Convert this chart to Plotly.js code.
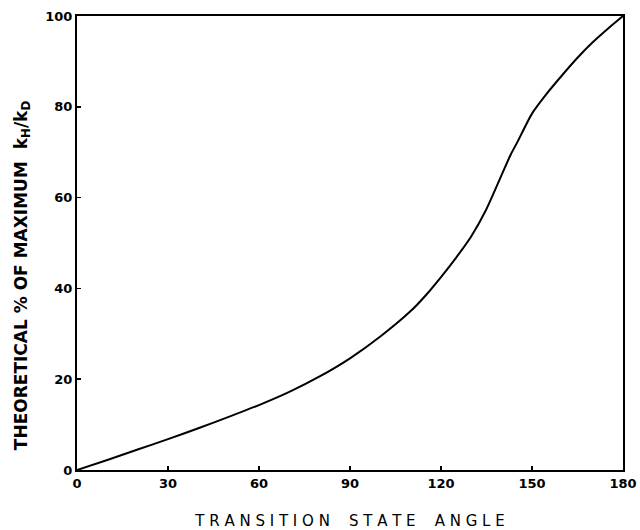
<!DOCTYPE html>
<html>
<head>
<meta charset="utf-8">
<script src="https://cdn.plot.ly/plotly-3.0.1.min.js"></script>
<style>html,body{margin:0;padding:0;background:#fff;}</style>
</head>
<body>
<div id="chart" style="width:640px;height:530px;"></div>
<script>
const angle = [0,10,20,30,40,50,60,70,80,90,100,110,115,120,125,130,135,140,143,145,150,155,160,165,170,175,180];
const pctMax = [0,2.2,4.5,6.8,9.2,11.7,14.3,17.2,20.6,24.6,29.4,35,38.5,42.5,46.8,51.5,57.5,65,69.5,72,78.5,83,87,90.8,94.2,97.2,100];
const xTicks = [0,30,60,90,120,150,180];
const yTicks = [0,20,40,60,80,100];
const xTitle = 'T R A N S I T I O N &nbsp;&nbsp; S T A T E &nbsp;&nbsp; A N G L E';
const yTitle = 'THEORETICAL % OF MAXIMUM &nbsp;k<sub>H</sub>/k<sub>D</sub>';

const trace = {
  x: angle, y: pctMax, type: 'scatter', mode: 'lines',
  line: {color: '#000', width: 2, shape: 'spline', smoothing: 0.6},
  hoverinfo: 'skip'
};

const tickFont = {family: 'DejaVu Sans', size: 13, color: '#000', weight: 'bold'};
const layout = {
  width: 640, height: 530,
  margin: {l: 77, r: 17, t: 16, b: 60},
  paper_bgcolor: '#fff', plot_bgcolor: '#fff',
  showlegend: false,
  xaxis: {
    range: [0, 180], tickvals: xTicks, ticktext: xTicks.map(String),
    showgrid: false, zeroline: false, showline: true, mirror: true,
    linecolor: '#000', linewidth: 2, ticks: 'inside', ticklen: 4, tickwidth: 1.5, tickcolor: '#000',
    tickfont: tickFont,
    title: {text: xTitle, font: {family: 'DejaVu Sans', size: 15, color: '#000'}, standoff: 26}
  },
  yaxis: {
    range: [0, 100], tickvals: yTicks, ticktext: yTicks.map(String),
    showgrid: false, zeroline: false, showline: true, mirror: true,
    linecolor: '#000', linewidth: 2, ticks: 'inside', ticklen: 4, tickwidth: 1.5, tickcolor: '#000',
    tickfont: tickFont
  },
  annotations: [{
    text: yTitle, textangle: -90, showarrow: false,
    xref: 'paper', yref: 'paper', x: -0.1, y: 0.43, xanchor: 'center', yanchor: 'middle',
    font: {family: 'DejaVu Sans', size: 17, color: '#000', weight: 'bold'}
  }]
};

Plotly.newPlot('chart', [trace], layout, {staticPlot: true, displayModeBar: false});
</script>
</body>
</html>
